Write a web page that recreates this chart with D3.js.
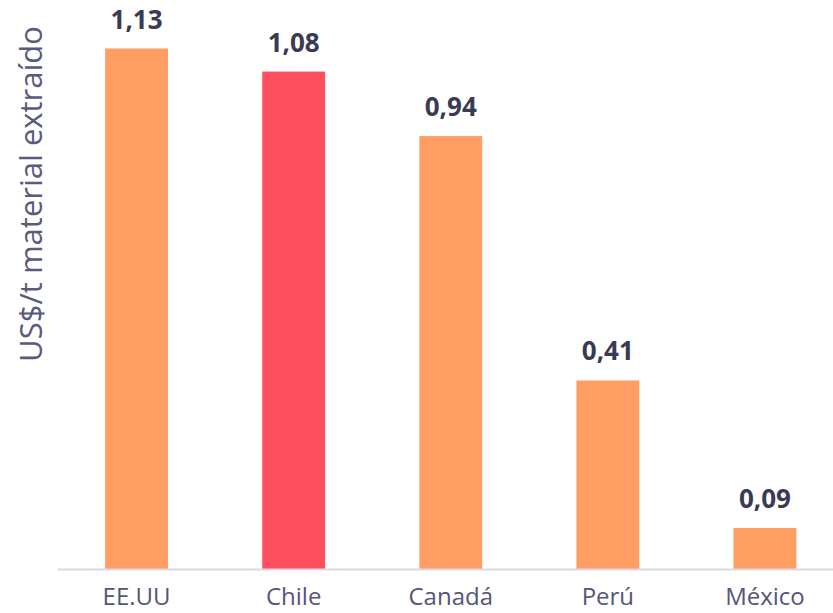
<!DOCTYPE html>
<html><head><meta charset="utf-8">
<script src="https://cdn.jsdelivr.net/npm/d3@7"></script>
<style>body{margin:0;background:#fff}svg{display:block}</style>
</head><body>
<svg id="c" width="833" height="613"></svg>
<script>
const categories = ["EE.UU", "Chile", "Canadá", "Perú", "México"];
const values = [1.13, 1.08, 0.94, 0.41, 0.09];
const highlight = "Chile";
const yTitle = "US$/t material extraído";

const svg = d3.select("#c");
const baseY = 569.5;
const x = d3.scaleBand().domain(categories).range([58, 843.5]).paddingInner(0.6).paddingOuter(0.3);
const y = d3.scaleLinear().domain([0, 1.13]).range([baseY, 48.5]);
const fmt = v => d3.format(".2f")(v).replace(".", ",");

svg.selectAll("rect.bar").data(categories).join("rect")
  .attr("class", "bar")
  .attr("x", d => x(d)).attr("width", x.bandwidth())
  .attr("y", (d, i) => y(values[i])).attr("height", (d, i) => baseY - y(values[i]))
  .attr("fill", d => d === highlight ? "#FF4F5E" : "#FF9D63");

svg.selectAll("text.val").data(categories).join("text")
  .attr("class", "val")
  .attr("x", d => x(d) + x.bandwidth() / 2)
  .attr("y", (d, i) => y(values[i]) - 20)
  .attr("text-anchor", "middle")
  .attr("font-family", "Open Sans").attr("font-weight", 700).attr("font-size", 26)
  .attr("fill", "#3A3A55")
  .text((d, i) => fmt(values[i]));

const ax = svg.append("g").attr("transform", `translate(0,${baseY})`)
  .call(d3.axisBottom(x).tickSize(0).tickPadding(18));
ax.select(".domain").attr("stroke", "#D9D9E3").attr("stroke-width", 2).attr("d", "M58,0H833");
ax.selectAll("text").attr("font-family", "Open Sans").attr("font-size", 24).attr("fill", "#55557A");

svg.append("text")
  .attr("transform", "translate(42,194) rotate(-90)")
  .attr("text-anchor", "middle")
  .attr("font-family", "Open Sans").attr("font-size", 31).attr("fill", "#5A5A80")
  .text(yTitle);
</script>
</body></html>
